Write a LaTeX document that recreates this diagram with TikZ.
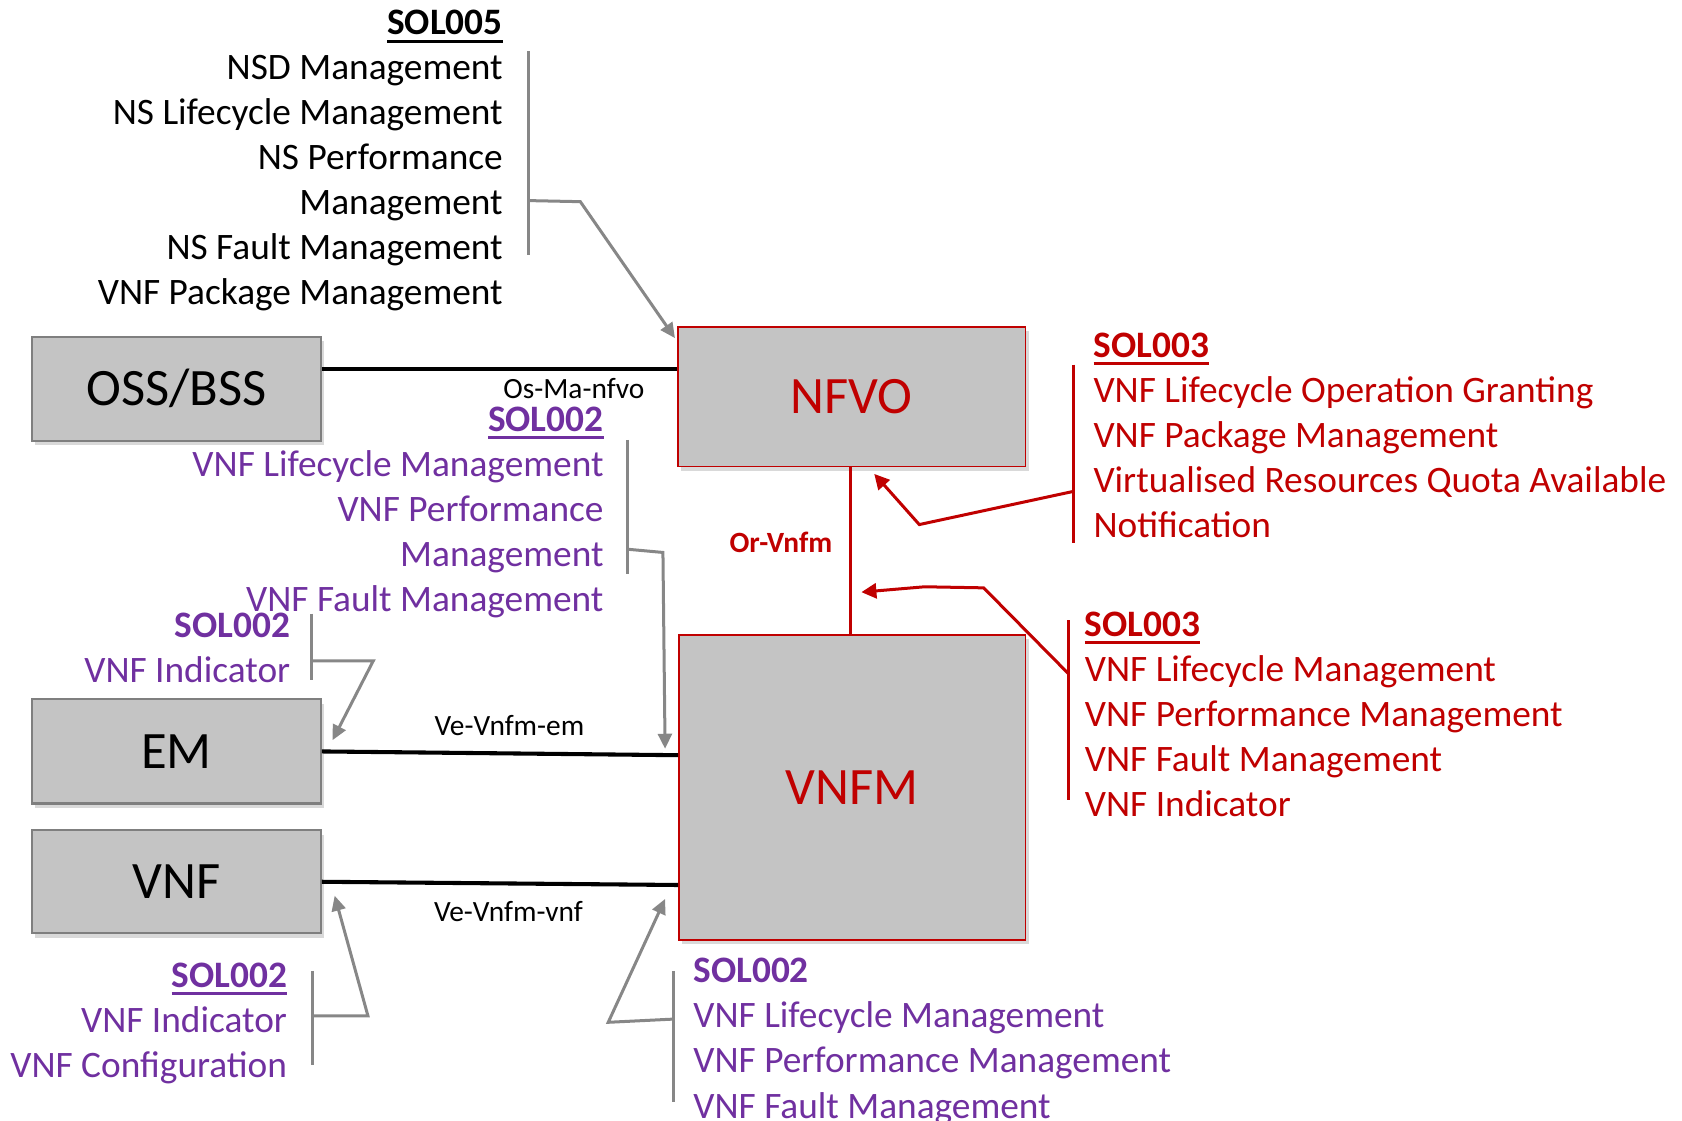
\documentclass[tikz,border=0pt]{standalone}
\usepackage{fontspec}
\setmainfont{Carlito}
\usepackage{tikz}
\usepackage{xcolor}
\usetikzlibrary{positioning, arrows.meta, shadows}

\definecolor{boxfill}{HTML}{C4C4C4}
\definecolor{boxline}{HTML}{7F7F7F}
\definecolor{nfvred}{HTML}{C00000}
\definecolor{solpurple}{HTML}{7030A0}
\definecolor{gline}{HTML}{878787}

\newcommand{\solhead}[1]{{\bfseries\setbox0\hbox{#1}\rlap{\vrule height -2.3pt depth 3.7pt width \wd0}\box0}}
\newcommand{\solplain}[1]{{\bfseries #1}}

\tikzset{
  fbox/.style={draw=boxline, fill=boxfill, line width=1pt, inner sep=0pt,
    font=\fontsize{24.5}{28}\selectfont,
    drop shadow={shadow xshift=1.5pt, shadow yshift=-2pt, opacity=0.3}},
  redbox/.style={fbox, draw=nfvred, text=nfvred, line width=0.8pt},
  listblock/.style={inner sep=0pt, font=\fontsize{17.4}{21}\selectfont},
  ifname/.style={inner sep=0pt, font=\fontsize{13.7}{16}\selectfont},
  link/.style={line width=1.9pt, black},
  gbar/.style={line width=1.4pt, gline},
  garrow/.style={line width=1.4pt, gline, -{Triangle[length=7pt,width=6.5pt]}},
  rbar/.style={line width=1.4pt, nfvred},
  rarrow/.style={line width=1.4pt, nfvred, -{Triangle[length=7pt,width=7pt]}}
}

\begin{document}
\begin{tikzpicture}[x=0.5pt, y=-0.5pt]
\useasboundingbox (0,0) rectangle (1568,1045);

% functional blocks
\node[fbox, minimum width=134.5pt, minimum height=48.5pt] (oss) at (164.5,362.5) {OSS/BSS};
\node[fbox, minimum width=134.5pt, minimum height=48.5pt] (em) at (164.5,700.5) {EM};
\node[fbox, minimum width=134.5pt, minimum height=48pt] (vnf) at (164.5,822) {VNF};
\node[redbox, minimum width=162pt, minimum height=65pt] (nfvo) at (794,370) {NFVO};
\node[redbox, minimum width=161.5pt, minimum height=142pt] (vnfm) at (794.5,734) {VNFM};

% reference points
\draw[link] ([yshift=9.25pt]oss.east) -- ([yshift=9.25pt]oss.east -| nfvo.west);
\draw[link] (em.east) -- ([yshift=-1.75pt]em.east -| vnfm.west);
\draw[link] (vnf.east) -- ([yshift=-1.5pt]vnf.east -| vnfm.west);
\draw[rbar] (nfvo.south -| 793,0) -- (vnfm.north -| 793,0);

\node[ifname] (osma) at (535,362) {Os-Ma-nfvo};
\node[ifname] (veem) at (475,676) {Ve-Vnfm-em};
\node[ifname] (vevnf) at (474,850) {Ve-Vnfm-vnf};
\node[ifname, text=nfvred, font=\fontsize{13.7}{16}\selectfont\bfseries] (orvnfm) at (728,506) {Or-Vnfm};

% SOL005
\node[listblock, align=right, anchor=north east] (sol005) at (469,9)
  {\solhead{SOL005}\\NSD Management\\NS Lifecycle Management\\NS Performance\\Management\\NS Fault Management\\VNF Package Management};
\draw[gbar] (493,48) -- (493,238);
\draw[garrow] (493,187) -- (541,188) -- ([xshift=-1pt,yshift=-5.5pt]nfvo.north west);

% SOL002 towards VNFM
\node[listblock, text=solpurple, align=right, anchor=north east] (sol002a) at (563,379)
  {\solhead{SOL002}\\VNF Lifecycle Management\\VNF Performance\\Management\\VNF Fault Management};
\draw[gbar] (585,410) -- (585,535);
\draw[garrow] (585,512) -- (618,515) -- (620,698);

% SOL002 towards EM
\node[listblock, text=solpurple, align=right, anchor=north east] (sol002b) at (271,571)
  {\solplain{SOL002}\\VNF Indicator};
\draw[gbar] (290,572) -- (290,634);
\draw[garrow] (290,616) -- (348,616) -- (310,690);

% SOL002 towards VNF
\node[listblock, text=solpurple, align=right, anchor=north east] (sol002c) at (268,897)
  {\solhead{SOL002}\\VNF Indicator\\VNF Configuration};
\draw[gbar] (291,905) -- (291,993);
\draw[garrow] (291,947) -- (343,947) -- (312,835);

% SOL002 below VNFM
\node[listblock, text=solpurple, align=left, anchor=north west] (sol002d) at (646,893)
  {\solplain{SOL002}\\VNF Lifecycle Management\\VNF Performance Management\\VNF Fault Management};
\draw[gbar] (628,905) -- (628,1027);
\draw[garrow] (628,950) -- (567,953) -- (620,838);

% SOL003 on NFVO
\node[listblock, text=nfvred, align=left, anchor=north west] (sol003a) at (1019,310)
  {\solhead{SOL003}\\VNF Lifecycle Operation Granting\\VNF Package Management\\Virtualised Resources Quota Available\\Notification};
\draw[rbar] (1001,340) -- (1001,506);
\draw[rarrow] (1001,458) -- (857,489) -- ([xshift=10.5pt,yshift=-3pt]nfvo.south);

% SOL003 on VNFM
\node[listblock, text=nfvred, align=left, anchor=north west] (sol003b) at (1011,570)
  {\solhead{SOL003}\\VNF Lifecycle Management\\VNF Performance Management\\VNF Fault Management\\VNF Indicator};
\draw[rbar] (996,578) -- (996,746);
\draw[rarrow] (996,628) -- (917,548) -- (862,547) -- (803,552);
\end{tikzpicture}
\end{document}
